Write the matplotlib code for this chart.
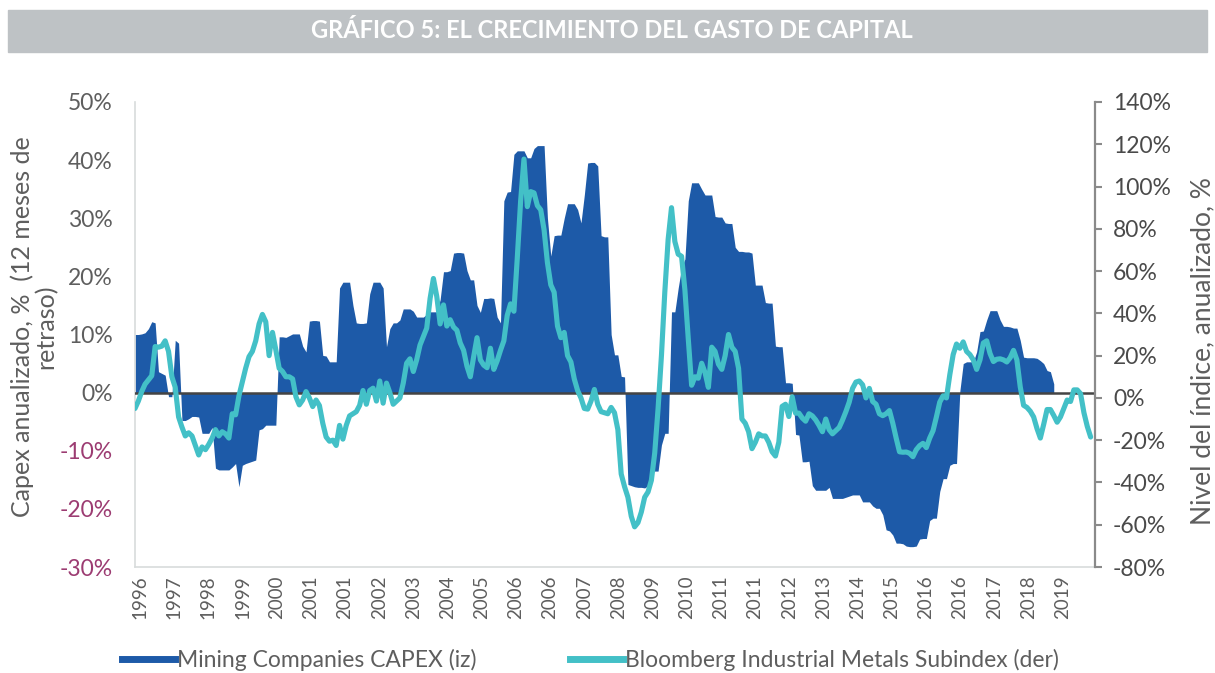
# plot.py
# Gráfico 5: crecimiento del gasto de capital (CAPEX minero vs. índice de metales industriales)
# Datos mensuales leídos a ojo del gráfico original (ene-1996 en adelante).

import numpy as np
import matplotlib
matplotlib.use('Agg')  # sin pantalla
import matplotlib.pyplot as plt
from matplotlib.lines import Line2D
from matplotlib.patches import Rectangle

plt.rcParams['font.family'] = ['Lato', 'DejaVu Sans']

# --- Mining Companies CAPEX, % anualizado (eje izquierdo), un valor por mes ---
cap_1996 = [10, 10, 10.1, 10.3, 11, 12.2, 12, 3.6, 3.3, 3, -0.7, -0.7]
cap_1997 = [9, 8.5, -4.8, -4.8, -4.5, -4.1, -4.1, -4.2, -7, -7, -7, -6]
cap_1998 = [-13, -13.3, -13.3, -13.3, -13.3, -12.8, -12.2, -16.2, -12.5, -12.2, -12, -11.8]
cap_1999 = [-11.6, -6.4, -6.2, -5.6, -5.6, -5.6, -5.6, 9.6, 9.6, 9.5, 9.8, 10.1]
cap_2000 = [10.1, 10.1, 8, 7, 12.3, 12.4, 12.4, 12.3, 6.4, 6.3, 5.3, 5.3]
cap_2001 = [5.3, 18, 19, 19, 19, 15, 12, 11.9, 11.9, 12, 17, 19]
cap_2002 = [19, 19, 18, 7.9, 11, 12, 12, 12.5, 14.4, 14.4, 14.4, 14]
cap_2003 = [13, 13, 13, 13.5, 13.9, 13.9, 13.9, 16, 20.8, 20.8, 21, 24]
cap_2004 = [24.1, 24.1, 24, 21, 19.4, 19.4, 15, 13.8, 16.2, 16.2, 16.3, 16.2]
cap_2005 = [13, 12, 33, 34.5, 34.6, 41, 41.6, 41.6, 41.6, 40.4, 40.4, 42]
cap_2006 = [42.5, 42.5, 42.5, 30, 23.5, 27, 27.1, 27.1, 30, 32.5, 32.5, 32.5]
cap_2007 = [31.5, 29.2, 34, 39.5, 39.6, 39.6, 39, 27, 26.8, 26.8, 10, 6.5]
cap_2008 = [6.5, 2.8, 2.7, -15.8, -16, -16.2, -16.3, -16.3, -16.4, -16, -13.5, -13.5]
cap_2009 = [-13.5, -9, -7, -7, 13.9, 13.9, 18, 21.5, 23, 33, 36.1, 36.1]
cap_2010 = [36.1, 35, 34, 34, 34, 30.3, 30.2, 30.2, 29.2, 29.1, 29.1, 25]
cap_2011 = [24.3, 24.3, 24.2, 24.2, 24, 18.5, 18.5, 18.5, 15.5, 15.4, 15.4, 8]
cap_2012 = [7.9, 7.9, 1.7, 1.7, 1.6, -7.2, -7.3, -11.9, -11.9, -11.8, -16, -16.8]
cap_2013 = [-16.8, -16.8, -16.8, -16.3, -18.2, -18.2, -18.2, -18.2, -18, -17.8, -17.6, -17.6]
cap_2014 = [-17.6, -18.8, -18.8, -18.8, -19.5, -19.9, -19.9, -21, -23.6, -23.8, -24.5, -25.9]
cap_2015 = [-25.9, -26, -26.4, -26.5, -26.5, -26.4, -25.2, -25.1, -25.1, -22, -21.6, -21.6]
cap_2016 = [-17, -14.8, -14.8, -12.5, -12.2, -12.2, 0.3, 5, 5.3, 5.3, 5.3, 7]
cap_2017 = [10.5, 10.6, 12.5, 14.1, 14.1, 14.1, 12.5, 11.4, 11.4, 11.3, 11.1, 11.1]
cap_2018 = [9, 6.1, 6, 6, 6, 5.9, 5.5, 5, 3.8, 3.6, 1.5]

# --- Bloomberg Industrial Metals Subindex, % anualizado (eje derecho) ---
met_1996 = [-5, -1.5, 3, 6.5, 8.5, 10.5, 24.3, 24, 24.5, 27, 22, 10]
met_1997 = [5, -9, -13.8, -18, -16.5, -18, -22.5, -27, -23.2, -24.5, -22, -19]
met_1998 = [-15, -18, -16, -17, -19, -7.5, -8, 1, 7.5, 14, 19.5, 22]
met_1999 = [27, 35, 39.5, 36, 20, 31, 22.7, 14, 12.5, 10, 10, 9]
met_2000 = [0.5, -3.3, -1, 3, 0, -4.1, -1, -3.6, -12, -18.5, -20.5, -20]
met_2001 = [-22.5, -13, -19.5, -13, -8.5, -7.5, -6.5, -3.5, 3.5, -3, 3.5, 4.6]
met_2002 = [-1.5, 8, -2.5, 7, 2.5, -3, -1.5, 0, 7, 16.4, 18.5, 12.5]
met_2003 = [18, 25, 29, 33, 47, 56.5, 48, 35, 44, 34, 37, 33.5]
met_2004 = [32, 26, 22.5, 15, 10, 19.5, 28.5, 18, 15.5, 14.3, 23.5, 13.5]
met_2005 = [17.5, 22.5, 27, 39, 44.5, 41, 66, 93, 113, 90.5, 97.6, 97]
met_2006 = [91, 89, 79.5, 64, 53.5, 50, 34, 28.5, 31, 20, 17, 9]
met_2007 = [3.5, 0, -5, -5.3, -1.5, 4, -3, -6.5, -7, -7.5, -4.5, -7]
met_2008 = [-15, -36, -42, -47, -56, -61, -59, -54, -47, -44.5, -39, -26]
met_2009 = [-5, 20, 50, 75, 90, 74, 68, 67, 51, 28, 6, 10]
met_2010 = [9.3, 16.4, 12, 5, 24, 22, 16, 13.5, 20, 30, 24, 22]
met_2011 = [14, -10, -12, -16, -24, -21, -17, -18, -18, -21, -25.5, -27.5]
met_2012 = [-21, -4, -3, -8.8, 0.5, -7.2, -7.2, -9.5, -11, -7.5, -8.5, -10.4]
met_2013 = [-13, -16, -10, -15, -17, -15.5, -14, -10.5, -6.5, -2, 4.5, 7.5]
met_2014 = [8, 6.2, 0, 4.5, -1.7, -3, -7.5, -8.4, -7.5, -6, -12, -19]
met_2015 = [-25.5, -25.7, -25.6, -26.2, -27.8, -24.5, -22.6, -21.5, -23.5, -19, -15.5, -9]
met_2016 = [-2, 1, 0, 11, 20.5, 25.5, 23.5, 26.5, 22, 20.5, 18, 13.5]
met_2017 = [18, 26, 27, 21, 17.2, 18.3, 18.5, 18, 17, 19, 22.5, 18]
met_2018 = [5.3, -3.5, -4.5, -6.3, -9, -14.5, -19, -12.5, -5.5, -5.5, -8.3, -11.5]
met_2019 = [-9, -5, -1, -1.7, 3.8, 3.8, 2, -7, -13.5, -18.5]

# etiquetas del eje x tal como aparecen en el original
year_labels = ["1996", "1997", "1998", "1999", "2000", "2001", "2001", "2002",
               "2003", "2004", "2005", "2006", "2006", "2007", "2008", "2009",
               "2010", "2011", "2011", "2012", "2013", "2014", "2015", "2016",
               "2016", "2017", "2018", "2019"]
left_ticks = [-30, -20, -10, 0, 10, 20, 30, 40, 50]
right_ticks = [-80, -60, -40, -20, 0, 20, 40, 60, 80, 100, 120, 140]

capex = np.array(cap_1996 + cap_1997 + cap_1998 + cap_1999 + cap_2000 + cap_2001 +
                 cap_2002 + cap_2003 + cap_2004 + cap_2005 + cap_2006 + cap_2007 +
                 cap_2008 + cap_2009 + cap_2010 + cap_2011 + cap_2012 + cap_2013 +
                 cap_2014 + cap_2015 + cap_2016 + cap_2017 + cap_2018)
metals = np.array(met_1996 + met_1997 + met_1998 + met_1999 + met_2000 + met_2001 +
                  met_2002 + met_2003 + met_2004 + met_2005 + met_2006 + met_2007 +
                  met_2008 + met_2009 + met_2010 + met_2011 + met_2012 + met_2013 +
                  met_2014 + met_2015 + met_2016 + met_2017 + met_2018 + met_2019)
x_capex = np.arange(len(capex))    # meses desde ene-1996
x_metals = np.arange(len(metals))

BLUE = '#1D5AA8'
CYAN = '#43C0C7'
GRAY_TXT = '#5E5E5E'
NEG_TXT = '#9C3C72'

fig = plt.figure(figsize=(12.15, 6.73), dpi=100)

# banda gris del título
fig.patches.append(Rectangle((8 / 1215, 1 - 52 / 673), 1199 / 1215, 42 / 673,
                             transform=fig.transFigure, color='#BEC2C5', zorder=0))
fig.text(0.5037, 1 - 31 / 673, "GRÁFICO 5: EL CRECIMIENTO DEL GASTO DE CAPITAL",
         ha='center', va='center', color='white', fontsize=17, fontweight='bold')

ax = fig.add_axes([135 / 1215, 1 - 567 / 673, 960 / 1215, 465 / 673])
ax2 = ax.twinx()

# área CAPEX + línea de cero (eje izquierdo)
ax.fill_between(x_capex, capex, 0, color=BLUE, lw=0, zorder=2)
ax.axhline(0, color='#444444', lw=1.8, zorder=3)

# línea del índice de metales (eje derecho)
ax2.plot(x_metals, metals, color=CYAN, lw=3.7, solid_joinstyle='round',
         solid_capstyle='round')

ax.set_xlim(0, 286.3)
ax.set_ylim(-30, 50)
ax2.set_ylim(-80, 140)

# eje x: etiquetas verticales
tick_pos = 1.5 + 10.19 * np.arange(len(year_labels))
ax.set_xticks(tick_pos)
ax.set_xticklabels(year_labels, rotation=90, fontsize=13.5, color=GRAY_TXT)
ax.tick_params(axis='x', length=0, pad=6)

# eje izquierdo
ax.set_yticks(left_ticks)
ax.set_yticklabels([f"{v}%" for v in left_ticks], fontsize=16.5)
for lab, v in zip(ax.get_yticklabels(), left_ticks):
    lab.set_color(NEG_TXT if v < 0 else GRAY_TXT)
ax.tick_params(axis='y', length=0, pad=16)

# eje derecho
ax2.set_yticks(right_ticks)
ax2.set_yticklabels([f"{v}%" for v in right_ticks], fontsize=16.5, color='#4A4A4A')
ax2.tick_params(axis='y', length=5, width=1.5, color='#8A8A8A', pad=8)

for s in ['top', 'right']:
    ax.spines[s].set_visible(False)
for s in ['left', 'bottom']:
    ax.spines[s].set_color('#D8DCDC')
    ax.spines[s].set_linewidth(1.2)
for s in ['top', 'left', 'bottom']:
    ax2.spines[s].set_visible(False)
ax2.spines['right'].set_color('#8A8A8A')
ax2.spines['right'].set_linewidth(1.6)

# títulos de los ejes
fig.text(34 / 1215, 1 - 327 / 673, "Capex anualizado, %  (12 meses de\nretraso)",
         rotation=90, ha='center', va='center', multialignment='center',
         fontsize=18, color=GRAY_TXT, linespacing=1.0)
fig.text(1203 / 1215, 1 - 351 / 673, "Nivel del índice, anualizado, %",
         rotation=90, ha='center', va='center', fontsize=19, color=GRAY_TXT)

# leyenda inferior (dos bloques separados)
h1 = Line2D([], [], color=BLUE, lw=5)
h2 = Line2D([], [], color=CYAN, lw=5)
leg_kw = dict(loc='center left', frameon=False, handlelength=2.3,
              handletextpad=0.1, borderpad=0, borderaxespad=0,
              prop={'size': 16.5})
leg1 = fig.legend([h1], ["Mining Companies CAPEX (iz)"],
                  bbox_to_anchor=(122 / 1215, 1 - 660 / 673), **leg_kw)
leg2 = fig.legend([h2], ["Bloomberg Industrial Metals Subindex (der)"],
                  bbox_to_anchor=(570 / 1215, 1 - 660 / 673), **leg_kw)
for leg in (leg1, leg2):
    for t in leg.get_texts():
        t.set_color(GRAY_TXT)

fig.savefig("out.png", dpi=100)
plt.close(fig)
